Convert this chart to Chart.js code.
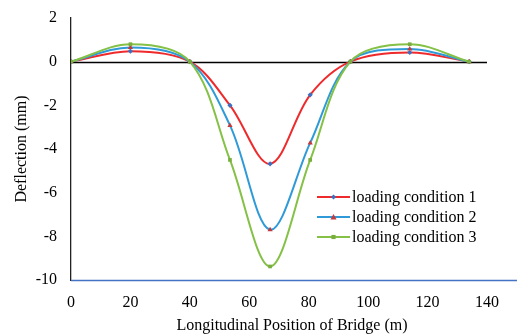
<!DOCTYPE html>
<html>
<head>
<meta charset="utf-8">
<script src="https://cdn.jsdelivr.net/npm/chart.js@4.4.1/dist/chart.umd.min.js"></script>
<style>
html,body{margin:0;padding:0;background:#fff;}
#wrap{width:517px;height:336px;position:relative;}
</style>
</head>
<body>
<div id="wrap"><canvas id="c" width="517" height="336"></canvas></div>
<script>
// Data
const positions = [0, 20, 40, 53.5, 67, 80.5, 94, 114, 134];
const seriesNames = ["loading condition 1", "loading condition 2", "loading condition 3"];
const condition1 = [0, 0.48, 0, -2.0, -4.68, -1.52, 0, 0.42, 0];
const condition2 = [0, 0.65, 0, -2.92, -7.7, -3.72, 0, 0.58, 0];
const condition3 = [0, 0.8, 0, -4.5, -9.38, -4.5, 0, 0.8, 0];
const xTicks = [0, 20, 40, 60, 80, 100, 120, 140];
const yTicks = [2, 0, -2, -4, -6, -8, -10];

const lineColors = ["#ee2a2c", "#2f9ad8", "#84c146"];
const markerColors = ["#3b6fc2", "#c23b3c", "#79ae3e"];
const markerStyles = ["rectRot", "triangle", "rect"];
const markerSizes = [2.6, 3, 2.6];
const allValues = [condition1, condition2, condition3];

const FONT = "'Liberation Serif', 'Times New Roman', serif";

const datasets = allValues.map((vals, i) => ({
  label: seriesNames[i],
  data: positions.map((x, k) => ({x: x, y: vals[k]})),
  borderColor: lineColors[i],
  backgroundColor: markerColors[i],
  pointBackgroundColor: markerColors[i],
  pointBorderColor: markerColors[i],
  pointBorderWidth: 0,
  pointStyle: markerStyles[i],
  pointRadius: markerSizes[i],
  borderWidth: 2,
  tension: 0.34,
  fill: false,
  order: 3 - i
}));

const axisLines = {
  id: 'axisLines',
  beforeDatasetsDraw(chart) {
    const {ctx, scales: {x, y}} = chart;
    const yy = Math.round(y.getPixelForValue(0)) + 0.5;
    const yb = Math.round(y.getPixelForValue(-10)) + 0.5;
    ctx.save();
    ctx.strokeStyle = '#000';
    ctx.lineWidth = 1.3;
    ctx.beginPath();
    ctx.moveTo(x.getPixelForValue(0), yy);
    ctx.lineTo(x.getPixelForValue(140), yy);
    ctx.stroke();
    ctx.strokeStyle = '#4472c4';
    ctx.beginPath();
    ctx.moveTo(x.getPixelForValue(0), yb);
    ctx.lineTo(chart.width, yb);
    ctx.stroke();
    ctx.restore();
  }
};

const customLegend = {
  id: 'customLegend',
  afterDraw(chart) {
    const {ctx} = chart;
    const x0 = 317, x1 = 350, tx = 352;
    const rows = [197, 217, 237];
    ctx.save();
    ctx.font = "16px " + FONT;
    ctx.textBaseline = 'middle';
    chart.data.datasets.forEach((ds, i) => {
      const yy = rows[i];
      ctx.strokeStyle = ds.borderColor;
      ctx.lineWidth = 2;
      ctx.beginPath();
      ctx.moveTo(x0, yy);
      ctx.lineTo(x1, yy);
      ctx.stroke();
      ctx.fillStyle = ds.pointBackgroundColor;
      const cx = (x0 + x1) / 2;
      const r = ds.pointRadius;
      ctx.beginPath();
      if (ds.pointStyle === 'rectRot') {
        ctx.moveTo(cx, yy - r); ctx.lineTo(cx + r, yy); ctx.lineTo(cx, yy + r); ctx.lineTo(cx - r, yy);
      } else if (ds.pointStyle === 'triangle') {
        ctx.moveTo(cx, yy - r); ctx.lineTo(cx + r, yy + r * 0.8); ctx.lineTo(cx - r, yy + r * 0.8);
      } else {
        ctx.rect(cx - r * 0.8, yy - r * 0.8, r * 1.6, r * 1.6);
      }
      ctx.closePath();
      ctx.fill();
      ctx.fillStyle = '#000';
      ctx.fillText(ds.label, tx, yy + 1);
    });
    ctx.restore();
  }
};

new Chart(document.getElementById('c'), {
  type: 'line',
  data: { datasets: datasets },
  options: {
    responsive: false,
    animation: false,
    devicePixelRatio: 1,
    layout: { padding: { top: 18, right: 0, left: 0, bottom: 0 } },
    plugins: {
      legend: { display: false },
      tooltip: { enabled: false }
    },
    scales: {
      x: {
        type: 'linear',
        min: 0,
        max: 148.75,
        afterBuildTicks(scale) { scale.ticks = xTicks.map(v => ({value: v})); },
        afterFit(scale) { scale.height = 56; },
        grid: { display: false, drawTicks: false },
        border: { display: false },
        ticks: {
          padding: 13,
          color: '#000',
          font: { family: FONT, size: 16 },
          maxRotation: 0,
          autoSkip: false
        },
        title: {
          display: true,
          text: 'Longitudinal Position of Bridge (m)',
          color: '#000',
          font: { family: FONT, size: 16 },
          padding: { top: 0, bottom: 1 }
        }
      },
      y: {
        type: 'linear',
        min: -10,
        max: 2,
        afterBuildTicks(scale) { scale.ticks = yTicks.map(v => ({value: v})); },
        afterFit(scale) { scale.width = 71; },
        grid: { display: false, drawTicks: false },
        border: { display: true, color: '#222', width: 1.3 },
        ticks: {
          padding: 14,
          color: '#000',
          font: { family: FONT, size: 16, lineHeight: 0.5 }
        },
        title: {
          display: true,
          text: 'Deflection (mm)',
          color: '#000',
          font: { family: FONT, size: 16 },
          padding: { top: 12, bottom: 0 }
        }
      }
    }
  },
  plugins: [axisLines, customLegend]
});
</script>
</body>
</html>
